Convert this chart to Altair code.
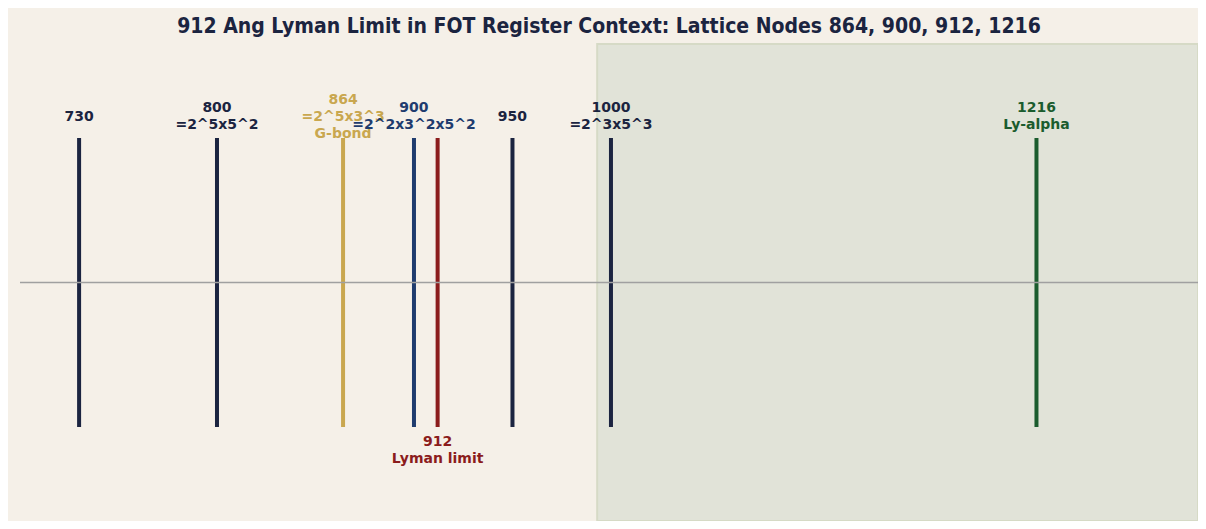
import altair as alt
import pandas as pd

# ---- data ----
nodes = [730, 800, 864, 900, 912, 950, 1000, 1216]
top_labels = ["730", "800\n=2^5x5^2", "864\n=2^5x3^3\nG-bond", "900\n=2^2x3^2x5^2",
              "", "950", "1000\n=2^3x5^3", "1216\nLy-alpha"]
bottom_labels = ["", "", "", "", "912\nLyman limit", "", "", ""]
roles = ["node", "node", "gbond", "lattice", "lyman", "node", "node", "lyalpha"]
x_extent = [700, 1298]
shade_extent = [993, 1298]

role_domain = ["node", "gbond", "lattice", "lyman", "lyalpha"]
role_colors = ["#1b2440", "#c9a74f", "#1f3c6e", "#8b1c1c", "#1b5c2e"]

Y_MAX = 1.65
PLOT_H = 477
LINE_H = 17
px = 2 * Y_MAX / PLOT_H  # data units per pixel

df = pd.DataFrame({"node": nodes, "top": top_labels, "bottom": bottom_labels, "role": roles})

xs = alt.Scale(domain=x_extent, nice=False, zero=False)
ys = alt.Scale(domain=[-Y_MAX, Y_MAX], nice=False, zero=False)
col = alt.Color("role:N", scale=alt.Scale(domain=role_domain, range=role_colors), legend=None)

base = alt.Chart(df)

shade = alt.Chart(pd.DataFrame({"a": [0]})).mark_rect(
    fill="#e1e3d8", stroke="#d6dac6", strokeWidth=2
).encode(
    x=alt.X(datum=shade_extent[0], type="quantitative", scale=xs, axis=None),
    x2=alt.X2(datum=shade_extent[1]),
    y=alt.Y(datum=-Y_MAX, type="quantitative", scale=ys, axis=None),
    y2=alt.Y2(datum=Y_MAX),
)

rules = base.mark_rule(strokeWidth=4).encode(
    x=alt.X("node:Q", scale=xs, axis=None),
    y=alt.Y(datum=-1, type="quantitative", scale=ys, axis=None),
    y2=alt.Y2(datum=1),
    color=col,
)

hline = alt.Chart(pd.DataFrame({"a": [0]})).mark_rule(
    color="#a0a0a0", strokeWidth=1.5
).encode(
    x=alt.X(datum=x_extent[0], type="quantitative", scale=xs, axis=None),
    x2=alt.X2(datum=x_extent[1]),
    y=alt.Y(datum=0, type="quantitative", scale=ys, axis=None),
)

# labels above the node lines: block of lines centred ~21px above the line top
top_text = base.transform_filter(alt.datum.top != "").transform_calculate(
    nlines="length(split(datum.top, '\\n'))"
).transform_calculate(
    ty=f"1 + {21 * px} + (datum.nlines - 1) * {LINE_H / 2 * px}"
).mark_text(
    font="DejaVu Sans", fontSize=14, fontWeight="bold", lineBreak="\n",
    lineHeight=LINE_H, baseline="middle", align="center"
).encode(
    x=alt.X("node:Q", scale=xs, axis=None),
    y=alt.Y("ty:Q", scale=ys, axis=None),
    text="top:N",
    color=col,
)

bottom_text = base.transform_filter(alt.datum.bottom != "").mark_text(
    font="DejaVu Sans", fontSize=14, fontWeight="bold", lineBreak="\n",
    lineHeight=LINE_H, baseline="top", align="center", dy=8
).encode(
    x=alt.X("node:Q", scale=xs, axis=None),
    y=alt.Y(datum=-1, type="quantitative", scale=ys, axis=None),
    text="bottom:N",
    color=col,
)

chart = alt.layer(shade, rules, hline, top_text, bottom_text).properties(
    width=1178,
    height=PLOT_H,
    autosize=alt.AutoSizeParams(type="none"),
    padding={"left": 12, "top": 36, "right": 0, "bottom": 0},
    background="#f5f0e8",
    title=alt.TitleParams(
        "912 Ang Lyman Limit in FOT Register Context: Lattice Nodes 864, 900, 912, 1216",
        font="DejaVu Sans Condensed", fontSize=21, fontWeight="bold",
        color="#1b2440", anchor="middle", offset=6,
    ),
).configure_view(stroke=None)

chart.save("out.html", embed_options={"renderer": "svg", "actions": False})
